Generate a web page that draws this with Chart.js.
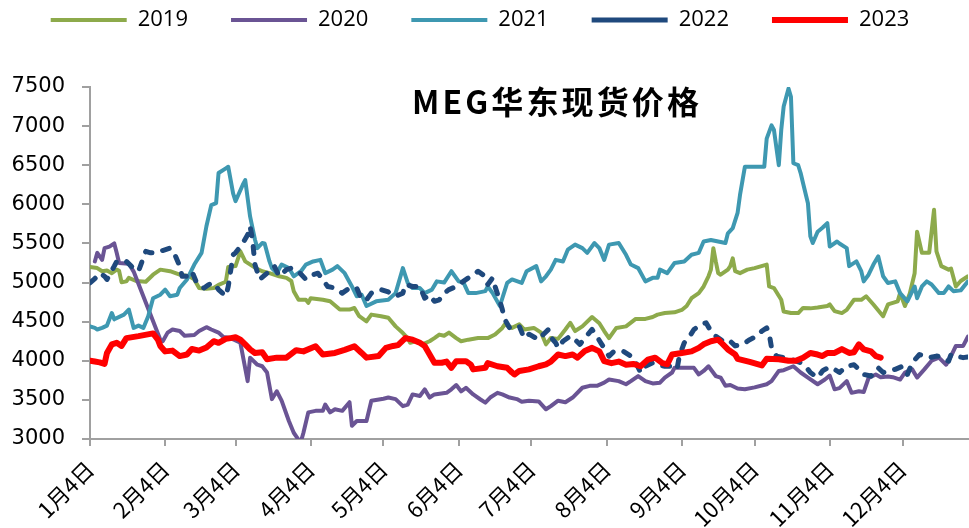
<!DOCTYPE html>
<html>
<head>
<meta charset="utf-8">
<script src="https://cdn.jsdelivr.net/npm/chart.js@4"></script>
<style>
  html, body { margin: 0; padding: 0; background: #fff; }
  #wrap { width: 969px; height: 528px; }
</style>
</head>
<body>
<div id="wrap"><canvas id="megChart" width="969" height="528"></canvas></div>
<script>

// x = day of a leap year (Jan 4 = 4), y = price in yuan/ton
const seriesNames = ["2019", "2020", "2021", "2022", "2023"];

const tickDays = [4, 35, 64, 95, 125, 156, 186, 217, 248, 278, 309, 339];
const tickLabels = ["1月4日", "2月4日", "3月4日", "4月4日", "5月4日", "6月4日",
    "7月4日", "8月4日", "9月4日", "10月4日", "11月4日", "12月4日"];

const yTicks = [3000, 3500, 4000, 4500, 5000, 5500, 6000, 6500, 7000, 7500];

const s2019 = [
    [4,5200],[7,5185],[9,5145],[11,5155],[13,5120],[15,5165],[16,5150],[17,5005],[19,5015],[20,5060],
    [23,5020],[27,5010],[30,5100],[33,5165],[37,5145],[41,5100],[45,5080],[47,5040],[49,4930],[52,4920],
    [55,4930],[57,4970],[60,5010],[61,5200],[64,5210],[66,5400],[68,5270],[72,5190],[75,5145],[78,5120],
    [82,5080],[85,5060],[87,5020],[88,4890],[90,4780],[93,4780],[94,4740],[95,4800],[100,4780],[103,4760],
    [107,4655],[111,4655],[113,4675],[115,4570],[118,4505],[120,4590],[124,4570],[127,4550],[130,4440],[133,4355],
    [135,4290],[136,4230],[138,4250],[141,4210],[144,4250],[146,4290],[148,4335],[150,4320],[152,4360],[155,4290],
    [157,4250],[160,4270],[164,4290],[168,4290],[171,4335],[174,4420],[175,4465],[178,4420],[181,4465],[183,4400],
    [187,4420],[190,4360],[192,4210],[194,4290],[197,4280],[200,4400],[202,4485],[204,4380],[207,4440],[211,4560],
    [214,4480],[216,4380],[218,4290],[221,4420],[225,4440],[229,4535],[233,4535],[236,4560],[238,4590],[241,4610],
    [245,4620],[248,4650],[250,4700],[252,4800],[255,4865],[257,4950],[259,5080],[260,5165],[261,5440],[262,5270],
    [263,5120],[264,5100],[267,5165],[268,5210],[269,5310],[270,5145],[272,5120],[275,5165],[278,5185],[283,5230],
    [284,4950],[286,4930],[289,4780],[290,4630],[293,4610],[296,4610],[298,4675],[301,4670],[304,4680],[308,4700],
    [309,4720],[311,4635],[314,4610],[316,4650],[319,4780],[322,4780],[324,4825],[327,4720],[331,4570],[333,4720],
    [337,4760],[338,4865],[340,4700],[342,4860],[344,5120],[345,5650],[347,5380],[350,5380],[352,5930],[353,5400],
    [355,5210],[358,5165],[359,5180],[361,4950],[363,5020],[366,5080]
];

const s2020 = [
    [6,5270],[7,5380],[9,5290],[10,5440],[12,5460],[14,5500],[15,5380],[16,5250],[20,5240],[22,5140],
    [33,4270],[34,4250],[36,4360],[38,4400],[41,4380],[43,4320],[47,4330],[49,4380],[52,4430],[54,4400],
    [57,4360],[59,4305],[62,4290],[66,4230],[69,3740],[70,4040],[73,3950],[75,3930],[77,3850],[79,3510],
    [81,3610],[83,3490],[86,3230],[88,3080],[90,2990],[91,2970],[92,3080],[94,3340],[97,3360],[100,3360],
    [101,3440],[103,3340],[105,3380],[108,3360],[111,3470],[112,3170],[114,3230],[118,3230],[120,3490],[125,3515],
    [127,3530],[130,3510],[133,3420],[135,3440],[137,3570],[140,3550],[142,3635],[144,3530],[146,3570],[151,3590],
    [153,3635],[155,3690],[157,3610],[159,3655],[162,3570],[165,3505],[167,3465],[169,3530],[172,3590],[174,3570],
    [177,3530],[180,3510],[182,3475],[185,3490],[189,3480],[192,3380],[194,3420],[197,3490],[200,3470],[203,3530],
    [207,3655],[210,3680],[213,3680],[216,3720],[218,3760],[222,3740],[225,3700],[227,3740],[230,3805],[233,3740],
    [236,3710],[239,3720],[241,3785],[244,3850],[245,3910],[250,3910],[253,3910],[255,3825],[257,3870],[259,3930],
    [262,3805],[264,3785],[266,3680],[268,3690],[271,3645],[274,3635],[278,3660],[283,3700],[285,3740],[288,3870],
    [290,3880],[294,3930],[297,3850],[300,3785],[304,3700],[307,3760],[309,3810],[311,3635],[313,3650],[316,3740],
    [318,3590],[321,3610],[323,3600],[325,3780],[328,3825],[330,3790],[333,3800],[335,3790],[338,3760],[340,3850],
    [343,3890],[345,3785],[348,3890],[351,4000],[354,4040],[357,3950],[359,4060],[361,4190],[364,4190],[366,4310]
];

const s2021 = [
    [4,4440],[6,4420],[7,4400],[9,4420],[11,4450],[13,4610],[14,4530],[18,4590],[20,4655],[22,4420],
    [24,4450],[26,4420],[28,4570],[30,4800],[33,4845],[35,4910],[37,4825],[40,4845],[41,4930],[44,5040],
    [47,5230],[50,5380],[52,5720],[54,5990],[56,6015],[57,6400],[60,6460],[61,6480],[63,6140],[64,6040],
    [67,6250],[68,6310],[70,5845],[72,5550],[73,5440],[75,5505],[76,5500],[78,5270],[79,5185],[81,5120],
    [83,5230],[86,5185],[88,5080],[91,5145],[93,5230],[96,5270],[99,5290],[101,5120],[104,5165],[106,5210],
    [109,5120],[112,4950],[114,4825],[116,4845],[118,4700],[122,4760],[127,4780],[130,4865],[133,5185],[135,4995],
    [137,4930],[140,4930],[142,4865],[145,4910],[147,5015],[150,5000],[153,5145],[156,5015],[158,5000],[160,4865],
    [163,4865],[167,4890],[168,4950],[170,4865],[173,4700],[176,4995],[178,5040],[182,4995],[184,5145],[188,5210],
    [190,5015],[192,5080],[194,5165],[196,5290],[199,5270],[201,5420],[204,5485],[207,5440],[209,5380],[212,5505],
    [214,5440],[216,5290],[218,5485],[222,5505],[225,5355],[227,5230],[230,5185],[233,5015],[236,5060],[238,5060],
    [239,5165],[242,5120],[245,5250],[249,5270],[252,5355],[255,5380],[257,5525],[260,5545],[263,5525],[266,5505],
    [267,5630],[269,5695],[271,5890],[272,6120],[274,6480],[278,6480],[282,6480],[283,6840],[285,7010],[286,6950],
    [288,6500],[289,6950],[290,7250],[292,7480],[293,7375],[294,6525],[296,6500],[297,6400],[298,6270],[300,6015],
    [301,5590],[302,5505],[304,5650],[306,5700],[308,5760],[309,5460],[312,5525],[313,5500],[316,5440],[317,5210],
    [320,5270],[322,5145],[323,5015],[325,5100],[327,5230],[329,5335],[331,5080],[333,4995],[336,5015],[338,4865],
    [341,4760],[344,4950],[345,4800],[347,4950],[349,5015],[351,4975],[354,4865],[356,4865],[358,4950],[360,4890],
    [363,4900],[366,5015]
];

const s2022 = [
    [4,4995],[6,5050],[8,5120],[10,5080],[11,5040],[14,5210],[15,5270],[19,5270],[21,5210],[22,5180],
    [24,5145],[27,5400],[29,5380],[31,5380],[33,5400],[37,5440],[39,5355],[41,5210],[42,5080],[44,5080],
    [46,5145],[48,4995],[51,4930],[53,4975],[55,4995],[57,4910],[60,4825],[61,4950],[63,5355],[64,5380],
    [67,5505],[69,5610],[70,5720],[71,5550],[72,5230],[74,5040],[77,5120],[80,5210],[82,5080],[85,5165],
    [87,5185],[90,5140],[93,5040],[96,5100],[98,5120],[102,4950],[105,4930],[108,4865],[111,4930],[114,4930],
    [116,4780],[118,4780],[120,4865],[124,4910],[127,4880],[130,4825],[133,4865],[134,4975],[137,4950],[140,4950],
    [142,4800],[144,4840],[146,4760],[148,4780],[150,4865],[152,4910],[155,4950],[157,4995],[160,5060],[163,5120],
    [164,5145],[166,5100],[168,4975],[170,5060],[171,4950],[173,4760],[174,4655],[175,4530],[177,4420],[179,4420],
    [181,4440],[183,4290],[185,4340],[189,4270],[191,4340],[193,4400],[194,4300],[196,4230],[197,4165],[199,4250],
    [202,4315],[204,4270],[206,4210],[208,4290],[211,4400],[213,4310],[215,4210],[218,4060],[220,4120],[224,4120],
    [227,4060],[229,3980],[231,3850],[233,3930],[236,3975],[238,3950],[241,3930],[243,3930],[246,3890],[247,4060],
    [249,4230],[251,4300],[253,4400],[256,4465],[258,4485],[260,4380],[262,4315],[266,4230],[268,4250],[270,4190],
    [273,4210],[276,4270],[279,4315],[281,4380],[283,4420],[284,4350],[285,4165],[287,4060],[290,4040],[293,4020],
    [297,3975],[299,3930],[301,3850],[304,3785],[306,3870],[307,3890],[309,3920],[311,3890],[313,3850],[316,3930],
    [319,3950],[321,3890],[323,3825],[326,3805],[329,3910],[331,3850],[333,3870],[336,3890],[339,3930],[341,3825],
    [343,3975],[346,4080],[348,4060],[350,4040],[353,4060],[355,4050],[358,3995],[359,4080],[361,4060],[364,4040],
    [366,4050]
];

const s2023 = [
    [4,4000],[6,3990],[8,3980],[10,3960],[11,4100],[13,4210],[15,4230],[17,4190],[19,4290],[24,4315],
    [30,4350],[32,4270],[33,4190],[35,4120],[38,4130],[41,4060],[44,4080],[46,4150],[49,4130],[52,4170],
    [55,4250],[57,4230],[60,4280],[62,4290],[64,4300],[66,4270],[68,4210],[70,4145],[72,4100],[75,4110],
    [77,4020],[81,4040],[85,4040],[89,4135],[92,4120],[97,4185],[100,4080],[105,4100],[109,4140],[113,4185],
    [116,4100],[118,4040],[123,4060],[126,4165],[129,4190],[131,4200],[134,4290],[137,4270],[140,4230],[142,4190],
    [146,3975],[149,3975],[151,3990],[153,3910],[155,3995],[159,3995],[161,3950],[162,3890],[167,3910],[168,3970],
    [172,3930],[176,3910],[178,3850],[179,3825],[181,3870],[185,3890],[189,3930],[192,3955],[194,3990],[197,4080],
    [200,4060],[203,4080],[205,4040],[208,4125],[211,4165],[214,4120],[216,3995],[219,3970],[222,3990],[225,3950],
    [228,3960],[231,3930],[234,4015],[237,4040],[240,3970],[242,3955],[244,4080],[248,4100],[252,4120],[255,4165],
    [257,4210],[260,4250],[263,4270],[264,4240],[267,4145],[270,4080],[271,4025],[276,3985],[281,3940],[283,4025],
    [288,4020],[292,4000],[295,4000],[298,4040],[301,4100],[304,4080],[306,4060],[308,4100],[311,4100],[314,4150],
    [317,4100],[319,4110],[321,4210],[323,4145],[326,4120],[328,4060],[330,4040]
];

const seriesData = [s2019, s2020, s2021, s2022, s2023];
const seriesColors = ["#8DAA4B", "#6A5494", "#3E98B1", "#1F497D", "#FF0000"];
const seriesWidths = [4, 4, 4, 5, 6];
const seriesDashes = [[], [], [], [7, 11], []];

const chartTitle = "MEG华东现货价格";


const buildDatasets = () => {

    return seriesNames.map((name, i) => ({
        label: name,
        data: seriesData[i].map(([d, v]) => ({ x: d, y: v })),
        borderColor: seriesColors[i],
        backgroundColor: seriesColors[i],
        borderWidth: seriesWidths[i],
        borderDash: seriesDashes[i],
        borderCapStyle: "round",
        borderJoinStyle: "round",
        pointRadius: 0,
        pointHoverRadius: 0,
        pointStyle: "line",
        tension: 0,
        fill: false,
        order: seriesNames.length - i,
    }));

};


// keeps the legend band at a fixed height and moves the row up to the top edge
const legendBand = {
    id: "legendBand",
    beforeLayout(chart) {
        const legend = chart.legend;
        if (legend && !legend._bandFixed) {
            const origFit = legend.fit.bind(legend);
            legend.fit = function () {
                origFit();
                this.height = 87;
            };
            legend._bandFixed = true;
        }
    },
    afterLayout(chart) {
        chart.legend.top = -34;
        chart.legend.left = -8;
    },
};


const titleInside = {
    id: "titleInside",
    afterDatasetsDraw(chart) {
        const ctx = chart.ctx;
        ctx.save();
        ctx.font = 'bold 32px "Noto Sans CJK SC"';
        ctx.fillStyle = "#000";
        ctx.textBaseline = "alphabetic";
        ctx.textAlign = "left";
        const w = ctx.measureText(chartTitle).width;
        const spacing = Math.max(0, (287 - w) / (chartTitle.length - 1));
        ctx.letterSpacing = spacing + "px";
        ctx.fillText(chartTitle, 412, 114);
        ctx.restore();
    },
};


const drawChart = () => {

    const canvas = document.getElementById("megChart");

    new Chart(canvas, {
        type: "line",
        data: { datasets: buildDatasets() },
        options: {
            responsive: false,
            animation: false,
            events: [],
            layout: { padding: { left: 0, right: 1, top: 0, bottom: 0 } },
            plugins: {
                tooltip: { enabled: false },
                legend: {
                    position: "top",
                    labels: {
                        usePointStyle: true,
                        pointStyleWidth: 76,
                        boxHeight: 22,
                        padding: 43,
                        color: "#000",
                        font: { family: "Open Sans", size: 22 },
                        sort: (a, b) => a.datasetIndex - b.datasetIndex,
                    },
                },
            },
            scales: {
                x: {
                    type: "linear",
                    min: 4,
                    max: 366,
                    afterBuildTicks: (scale) => {
                        scale.ticks = tickDays.map((d) => ({ value: d }));
                    },
                    afterFit: (scale) => { scale.height = 89; },
                    grid: { drawOnChartArea: false, tickLength: 7, color: "#A0A0A0", lineWidth: 2 },
                    border: { color: "#A0A0A0", width: 2 },
                    ticks: {
                        autoSkip: false,
                        minRotation: 45,
                        maxRotation: 45,
                        padding: 10,
                        color: "#000",
                        font: { family: "Noto Sans CJK SC", size: 22 },
                        callback: (value) => tickLabels[tickDays.indexOf(value)],
                    },
                },
                y: {
                    min: 3000,
                    max: 7500,
                    afterBuildTicks: (scale) => {
                        scale.ticks = yTicks.map((v) => ({ value: v }));
                    },
                    afterFit: (scale) => { scale.width = 90; },
                    grid: { drawOnChartArea: false, tickLength: 8, color: "#A0A0A0", lineWidth: 2 },
                    border: { color: "#A0A0A0", width: 2 },
                    ticks: {
                        padding: 17,
                        color: "#000",
                        font: { family: "DejaVu Sans", size: 21 },
                        callback: (value) => String(value),
                    },
                },
            },
        },
        plugins: [legendBand, titleInside],
    });

    return;

};


drawChart();

</script>
</body>
</html>
